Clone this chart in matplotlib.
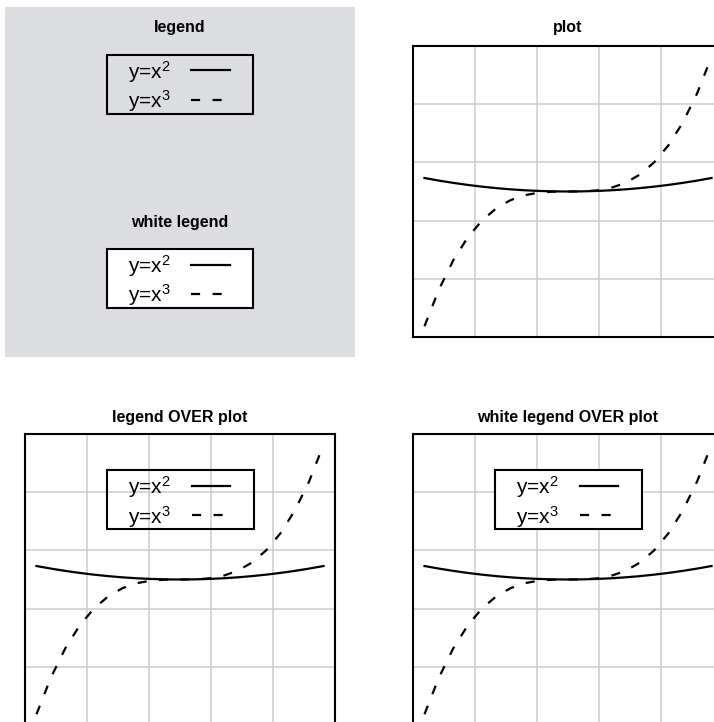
import numpy as np
import matplotlib
matplotlib.use("Agg")
import matplotlib.pyplot as plt
from matplotlib.patches import Rectangle
from matplotlib.lines import Line2D

plt.rcParams['font.family'] = 'Liberation Sans'
plt.rcParams['mathtext.fontset'] = 'custom'
plt.rcParams['mathtext.rm'] = 'Liberation Sans'
plt.rcParams['mathtext.it'] = 'Liberation Sans'
plt.rcParams['mathtext.default'] = 'regular'

# data
x = [-10, -9, -8, -7, -6, -5, -4, -3, -2, -1, 0, 1, 2, 3, 4, 5, 6, 7, 8, 9, 10]
y_sq = [100, 81, 64, 49, 36, 25, 16, 9, 4, 1, 0, 1, 4, 9, 16, 25, 36, 49, 64, 81, 100]
y_cube = [-1000, -729, -512, -343, -216, -125, -64, -27, -8, -1, 0,
          1, 8, 27, 64, 125, 216, 343, 512, 729, 1000]
labels = ["y=x$^2$", "y=x$^3$"]

W, H = 714, 722
GRAY = "#dcdde0"
LW = 1.6
DASH = (0, (4.1, 5.6))
styles = ["-", DASH]

fig = plt.figure(figsize=(W / 100, H / 100), dpi=100)


def box(left, top, w, h):
    return [left / W, 1 - (top + h) / H, w / W, h / H]


def title(cx, base, text):
    fig.text(cx / W, 1 - base / H, text, ha="center", va="baseline",
             fontsize=11.5, fontweight="bold")


def draw_key(cx, top, face):
    left = cx - 73.5
    fig.add_artist(Rectangle((left / W, 1 - (top + 59) / H), 147 / W, 59 / H,
                             transform=fig.transFigure, facecolor=face,
                             edgecolor="black", lw=1.5, zorder=5))
    for i, (lab, ls) in enumerate(zip(labels, styles)):
        fig.text((left + 21) / W, 1 - (top + 24 + 29.3 * i) / H, lab,
                 fontsize=15, ha="left", va="baseline", zorder=6)
        yy = 1 - (top + 15.7 + 29.3 * i) / H
        fig.add_artist(Line2D([(left + 84.5) / W, (left + 123) / W], [yy, yy],
                              transform=fig.transFigure, color="black",
                              lw=LW, ls=ls, zorder=6))


def plot_panel(rect):
    ax = fig.add_axes(rect)
    ax.plot(x, y_sq, color="black", lw=LW, ls=styles[0])
    ax.plot(x, y_cube, color="black", lw=LW, ls=styles[1])
    ax.margins(0.04)
    x0, x1 = ax.get_xlim()
    y0, y1 = ax.get_ylim()
    ax.set_xticks(np.linspace(x0, x1, 6)[1:-1])
    ax.set_yticks(np.linspace(y0, y1, 6)[1:-1])
    ax.set_xlim(x0, x1)
    ax.set_ylim(y0, y1)
    ax.tick_params(length=0, labelbottom=False, labelleft=False)
    ax.grid(True, color="#cccccc", lw=1.1)
    ax.set_axisbelow(True)
    for s in ax.spines.values():
        s.set_linewidth(1.5)
    return ax


# legend only (gray panel)
ax0 = fig.add_axes(box(5, 7, 350, 350))
ax0.set_facecolor(GRAY)
ax0.set_xticks([])
ax0.set_yticks([])
for s in ax0.spines.values():
    s.set_visible(False)
title(180, 32.3, "legend")
draw_key(180, 54.5, "none")
title(180, 226.7, "white legend")
draw_key(180, 249, "white")

# plot
plot_panel(box(413, 46, 310, 291))
title(568, 32.3, "plot")

# legend over plot
plot_panel(box(25, 434, 310, 291))
title(180, 421.7, "legend OVER plot")
draw_key(180.6, 470, "none")

# white legend over plot
plot_panel(box(413, 434, 310, 291))
title(568, 421.7, "white legend OVER plot")
draw_key(568.7, 470, "white")

fig.savefig("out.png", dpi=100)
